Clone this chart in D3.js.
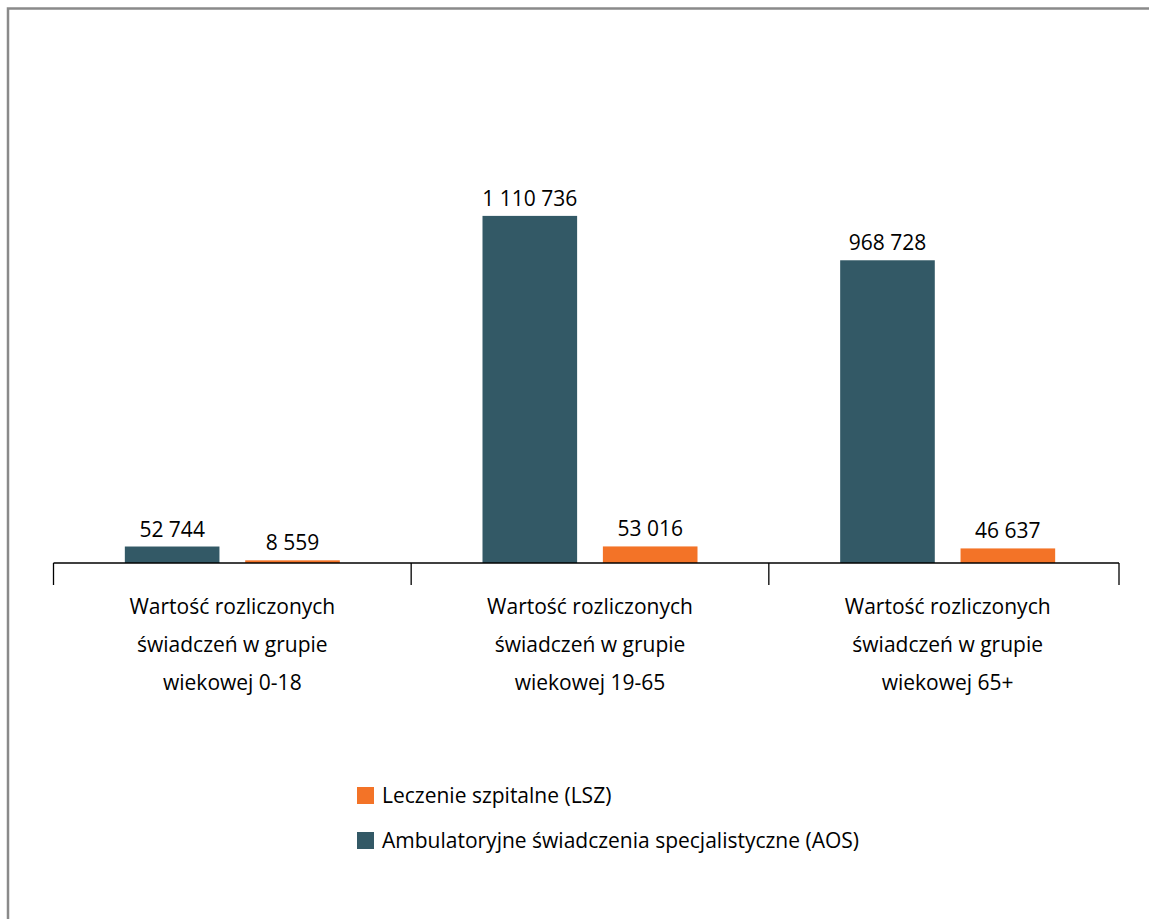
<!DOCTYPE html>
<html><head><meta charset="utf-8">
<script src="https://cdn.jsdelivr.net/npm/d3@7"></script>
<style>html,body{margin:0;padding:0;background:#fff;}svg{display:block;}</style>
</head><body>
<script>
const categories = [
  ["Wartość rozliczonych", "świadczeń w grupie", "wiekowej 0-18"],
  ["Wartość rozliczonych", "świadczeń w grupie", "wiekowej 19-65"],
  ["Wartość rozliczonych", "świadczeń w grupie", "wiekowej 65+"]
];
const seriesNames = ["Ambulatoryjne świadczenia specjalistyczne (AOS)", "Leczenie szpitalne (LSZ)"];
const aosValues = [52744, 1110736, 968728];
const lszValues = [8559, 53016, 46637];
const valueLabels = [["52 744", "8 559"], ["1 110 736", "53 016"], ["968 728", "46 637"]];
const colors = ["#335966", "#f37327"];

const W = 1149, H = 919;
const font = "'Open Sans', sans-serif";
const fs = 21;
const svg = d3.select("body").append("svg").attr("width", W).attr("height", H);

// border
svg.append("rect").attr("x", 8).attr("y", 8.5).attr("width", W + 10).attr("height", H + 10)
  .attr("fill", "none").attr("stroke", "#8a8a8a").attr("stroke-width", 2.5);

const baseY = 563;
const x0 = d3.scaleBand().domain(d3.range(categories.length)).range([53.5, 1126.5]).paddingInner(0).paddingOuter(0);
const pad = (x0.bandwidth() - 215) / 2;
const x1 = d3.scaleBand().domain([0, 1]).range([pad, x0.bandwidth() - pad]).paddingInner(23 / 107.5).paddingOuter(0);
const y = d3.scaleLinear().domain([0, 1200000]).range([baseY, baseY - 375]);

const data = categories.map((c, i) => ({i, vals: [aosValues[i], lszValues[i]]}));

const g = svg.append("g");
const groups = g.selectAll("g.cat").data(data).join("g").attr("transform", d => `translate(${x0(d.i)},0)`);
groups.selectAll("rect").data(d => d.vals.map((v, k) => ({v, k, i: d.i}))).join("rect")
  .attr("x", d => x1(d.k)).attr("width", x1.bandwidth())
  .attr("y", d => y(d.v)).attr("height", d => baseY - y(d.v))
  .attr("fill", d => colors[d.k]);
groups.selectAll("text.val").data(d => d.vals.map((v, k) => ({v, k, i: d.i}))).join("text")
  .attr("class", "val")
  .attr("x", d => x1(d.k) + x1.bandwidth() / 2).attr("y", d => y(d.v) - 10)
  .attr("text-anchor", "middle").attr("font-family", font).attr("font-size", fs).attr("fill", "#000")
  .text(d => valueLabels[d.i][d.k]);

// axis
const axis = d3.axisBottom(x0).tickSize(0).tickFormat("");
const ax = svg.append("g").attr("transform", `translate(0,${baseY})`).call(axis);
const axEnd = 1119;
ax.select(".domain").attr("stroke", "#000").attr("stroke-width", 1.3).attr("d", `M${x0(0)},0H${axEnd}`);
const tickXs = d3.range(categories.length).map(i => x0(i)).concat([axEnd]);
ax.selectAll("line.tk").data(tickXs).join("line").attr("class", "tk")
  .attr("x1", d => d).attr("x2", d => d).attr("y1", 0).attr("y2", 22)
  .attr("stroke", "#000").attr("stroke-width", 1.3);

// category labels
const cl = svg.append("g");
categories.forEach((lines, i) => {
  const t = cl.append("text").attr("text-anchor", "middle").attr("font-family", font).attr("font-size", fs).attr("fill", "#000");
  lines.forEach((ln, j) => {
    t.append("tspan").attr("x", x0(i) + x0.bandwidth() / 2).attr("y", 614 + j * 38).text(ln);
  });
});

// legend
const legendItems = [{name: seriesNames[1], color: colors[1]}, {name: seriesNames[0], color: colors[0]}];
const lg = svg.append("g").selectAll("g").data(legendItems).join("g")
  .attr("transform", (d, i) => `translate(357,${787 + i * 45})`);
lg.append("rect").attr("width", 17).attr("height", 17).attr("fill", d => d.color);
lg.append("text").attr("x", 25).attr("y", 16).attr("font-family", font).attr("font-size", fs).attr("fill", "#000").text(d => d.name);
</script>
</body></html>
